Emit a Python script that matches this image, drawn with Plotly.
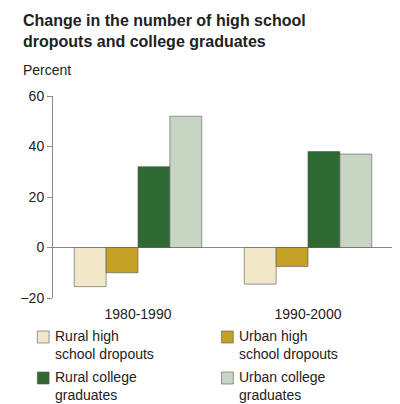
import plotly.graph_objects as go

periods = ["1980-1990", "1990-2000"]
series = ["Rural high<br>school dropouts", "Urban high<br>school dropouts",
          "Rural college<br>graduates", "Urban college<br>graduates"]
values = [[-15.5, -14.5], [-10, -7.5], [32, 38], [52, 37]]
colors = ["#f2e8c9", "#c3a227", "#2f6a35", "#c6d6c3"]

fig = go.Figure()
for name, vals, col in zip(series, values, colors):
    fig.add_trace(go.Bar(x=periods, y=vals, name=name, marker_color=col,
                         marker_line=dict(color="#555555", width=0.6)))

# legend drawn by hand, two columns
W, H = 400, 404
anns = [
    dict(text="<b>Change in the number of high school<br>dropouts and college graduates</b>",
         x=5 / W, y=1 - 2 / H, xref="paper", yref="paper", xanchor="left", yanchor="top",
         showarrow=False, align="left", font=dict(size=16)),
    dict(text="Percent", x=5 / W, y=1 - 62 / H, xref="paper", yref="paper",
         xanchor="left", yanchor="middle", showarrow=False),
]
shapes = []
pos = [(22, 322), (210, 322), (22, 363), (210, 363)]
for (px, py), name, col in zip(pos, series, colors):
    shapes.append(dict(type="rect", xref="paper", yref="paper",
                       x0=px / W, x1=(px + 12) / W, y0=1 - (py + 13) / H, y1=1 - (py + 1) / H,
                       fillcolor=col, line=dict(color="#555", width=0.6)))
    anns.append(dict(text=name, x=(px + 16) / W, y=1 - (py - 4) / H, xref="paper", yref="paper",
                     xanchor="left", yanchor="top", showarrow=False, align="left",
                     font=dict(size=14)))

# convert pixel positions relative to whole figure into paper coords
ml, mr, mt, mb = 38, 15, 88, 114
pw, ph = W - ml - mr, H - mt - mb
for a in anns:
    a["x"] = (a["x"] * W - ml) / pw
    a["y"] = (a["y"] * H - mb) / ph
for s in shapes:
    s["x0"] = (s["x0"] * W - ml) / pw
    s["x1"] = (s["x1"] * W - ml) / pw
    s["y0"] = (s["y0"] * H - mb) / ph
    s["y1"] = (s["y1"] * H - mb) / ph

fig.update_layout(
    width=W, height=H, barmode="group", bargap=0.25, bargroupgap=0,
    plot_bgcolor="white", paper_bgcolor="white", showlegend=False,
    font=dict(family="Arial, Liberation Sans", size=14, color="#222"),
    margin=dict(l=ml, r=mr, t=mt, b=mb),
    annotations=anns, shapes=shapes,
)
fig.update_yaxes(range=[-20, 60], tickvals=[-20, 0, 20, 40, 60], showgrid=False,
                 showline=True, linecolor="#888", ticks="outside", ticklen=5,
                 tickcolor="#888", zeroline=True, zerolinecolor="#888", zerolinewidth=1)
fig.update_xaxes(showline=False, ticks="", tickfont=dict(size=14), ticklabelstandoff=6)
fig.write_html("out.html")
